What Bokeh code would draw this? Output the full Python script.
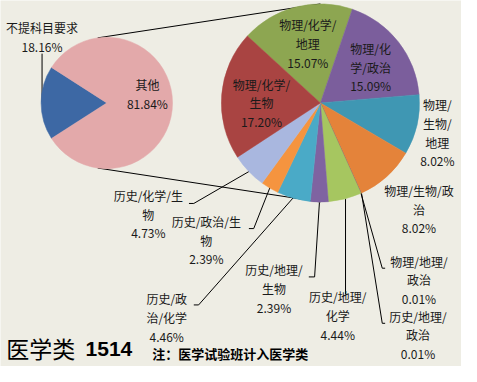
import numpy as np
from bokeh.plotting import figure
from bokeh.models import Range1d, ColumnDataSource
from bokeh.embed import file_html
from bokeh.resources import INLINE
from bokeh.core.properties import value

# ---------------- data ----------------
left_categories = ["不提科目要求", "其他"]
left_values = [18.16, 81.84]

right_categories = ["物理/化学/地理", "物理/化学/政治", "物理/生物/地理", "物理/生物/政治",
                    "物理/地理/政治", "历史/地理/政治", "历史/地理/化学", "历史/地理/生物",
                    "历史/政治/化学", "历史/政治/生物", "历史/化学/生物", "物理/化学/生物"]
right_values = [15.07, 15.09, 8.02, 8.02, 0.01, 0.01, 4.44, 2.39, 4.46, 2.39, 4.73, 17.20]

# wrapped label names (as printed on the chart)
left_label_names = ["不提科目要求", "其他"]
right_label_names = ["物理/化学/\n地理", "物理/化\n学/政治", "物理/\n生物/\n地理", "物理/生物/政\n治",
                     "物理/地理/\n政治", "历史/地理/\n政治", "历史/地理/\n化学", "历史/地理/\n生物",
                     "历史/政\n治/化学", "历史/政治/生\n物", "历史/化学/生\n物", "物理/化学/\n生物"]

# ---------------- styles / layout ----------------
BG = "#EEEDE4"
left_colors = ["#3D68A4", "#E3A9AA"]
right_colors = ["#8DA651", "#7B5E9C", "#3F97B3", "#E4833A", "#4F81BD", "#C0504D",
                "#A6C660", "#7F63A1", "#4AAAC7", "#F5943F", "#A9B7DF", "#A94442"]

H = 382.0


def Y(py):
    return H - py


LC = (110.0, 108.0)
LR = 68.0
RC = (331.0, 108.0)
RR = 102.5
RIGHT_START = -47.5  # clockwise degrees from 12 o'clock where first slice starts

left_label_pos = [(43, 40), (152, 99)]
right_label_pos = [(318, 46.5), (383, 71), (452, 139), (433, 218), (433, 291), (432, 348),
                   (349, 328), (283, 300), (172, 330), (213, 250), (153, 223), (270, 108)]

leaders = [
    [(43, 57), (43, 107)],
    [(195, 212), (200, 212), (257, 179)],
    [(257, 238), (262, 238), (279, 195)],
    [(200, 317), (205, 317), (303, 206)],
    [(319, 288), (325, 288), (330, 211)],
    [(357, 306), (357, 207)],
    [(398, 279), (395, 279), (372, 198)],
    [(398, 336), (395, 336), (373, 198)],
]

p = figure(width=461, height=366, x_range=Range1d(0, 477), y_range=Range1d(1.3, 380),
           output_backend="svg", toolbar_location=None, min_border=0)
p.axis.visible = False
p.grid.visible = False
p.outline_line_color = None
p.background_fill_color = BG
p.border_fill_color = BG

# ---- series lines (behind pies) ----
a_top = np.deg2rad(98)
a_bot = np.deg2rad(-98)
p.line([LC[0] + LR * np.cos(a_top), RC[0]], [Y(LC[1]) + LR * np.sin(a_top), Y(RC[1] - RR)],
       line_color="black", line_width=1)
p.line([LC[0] + LR * np.cos(a_bot), RC[0]], [Y(LC[1]) + LR * np.sin(a_bot), Y(RC[1] + RR)],
       line_color="black", line_width=1)

# ---- leader lines ----
for pts in leaders:
    p.line([q[0] for q in pts], [Y(q[1]) for q in pts], line_color="black", line_width=1)

# ---- left pie ----
lv = np.array(left_values)
blue_span = lv[0] / lv.sum() * 2 * np.pi
l_start = [np.pi - blue_span / 2, np.pi + blue_span / 2]
l_end = [np.pi + blue_span / 2, np.pi - blue_span / 2 + 2 * np.pi]
p.wedge(x=[LC[0]] * 2, y=[Y(LC[1])] * 2, radius=LR, start_angle=l_start, end_angle=l_end,
        fill_color=left_colors, line_color=left_colors, line_width=0.5)

# ---- right pie ----
rv = np.array(right_values)
cum = np.concatenate([[0], np.cumsum(rv)]) / rv.sum() * 360 + RIGHT_START
theta1 = cum[:-1]
theta2 = cum[1:]
r_start = np.deg2rad(90 - theta2)
r_end = np.deg2rad(90 - theta1)
p.wedge(x=[RC[0]] * len(rv), y=[Y(RC[1])] * len(rv), radius=RR,
        start_angle=list(r_start), end_angle=list(r_end),
        fill_color=right_colors, line_color=right_colors, line_width=0.5)

# ---- labels ----
texts, xs, ys = [], [], []
for name, v, (px, py) in zip(left_label_names, left_values, left_label_pos):
    texts.append(f"{name}\n{v:.2f}%")
    xs.append(px)
    ys.append(Y(py))
for name, v, (px, py) in zip(right_label_names, right_values, right_label_pos):
    texts.append(f"{name}\n{v:.2f}%")
    xs.append(px)
    ys.append(Y(py))

src = ColumnDataSource(dict(x=xs, y=ys, text=texts))
p.text(x="x", y="y", text="text", source=src, text_align="center", text_baseline="middle",
       text_font=value("Noto Sans CJK SC"), text_font_size="12px", text_color="#1a1a1a",
       text_line_height=1.1)

# ---- footer texts ----
p.text(x=[6], y=[Y(362)], text=["医学类"], text_align="left", text_baseline="middle",
       text_font=value("Noto Sans CJK SC"), text_font_size="23px", text_color="black")
p.text(x=[88], y=[Y(363)], text=["1514"], text_align="left", text_baseline="middle",
       text_font=value("Liberation Sans"), text_font_size="21px", text_font_style="bold",
       text_color="black")
p.text(x=[157], y=[Y(367)], text=["注：医学试验班计入医学类"], text_align="left",
       text_baseline="middle", text_font=value("Noto Sans CJK SC"), text_font_size="13px",
       text_font_style="bold", text_color="black")

open("out.html", "w").write(file_html(p, INLINE))
